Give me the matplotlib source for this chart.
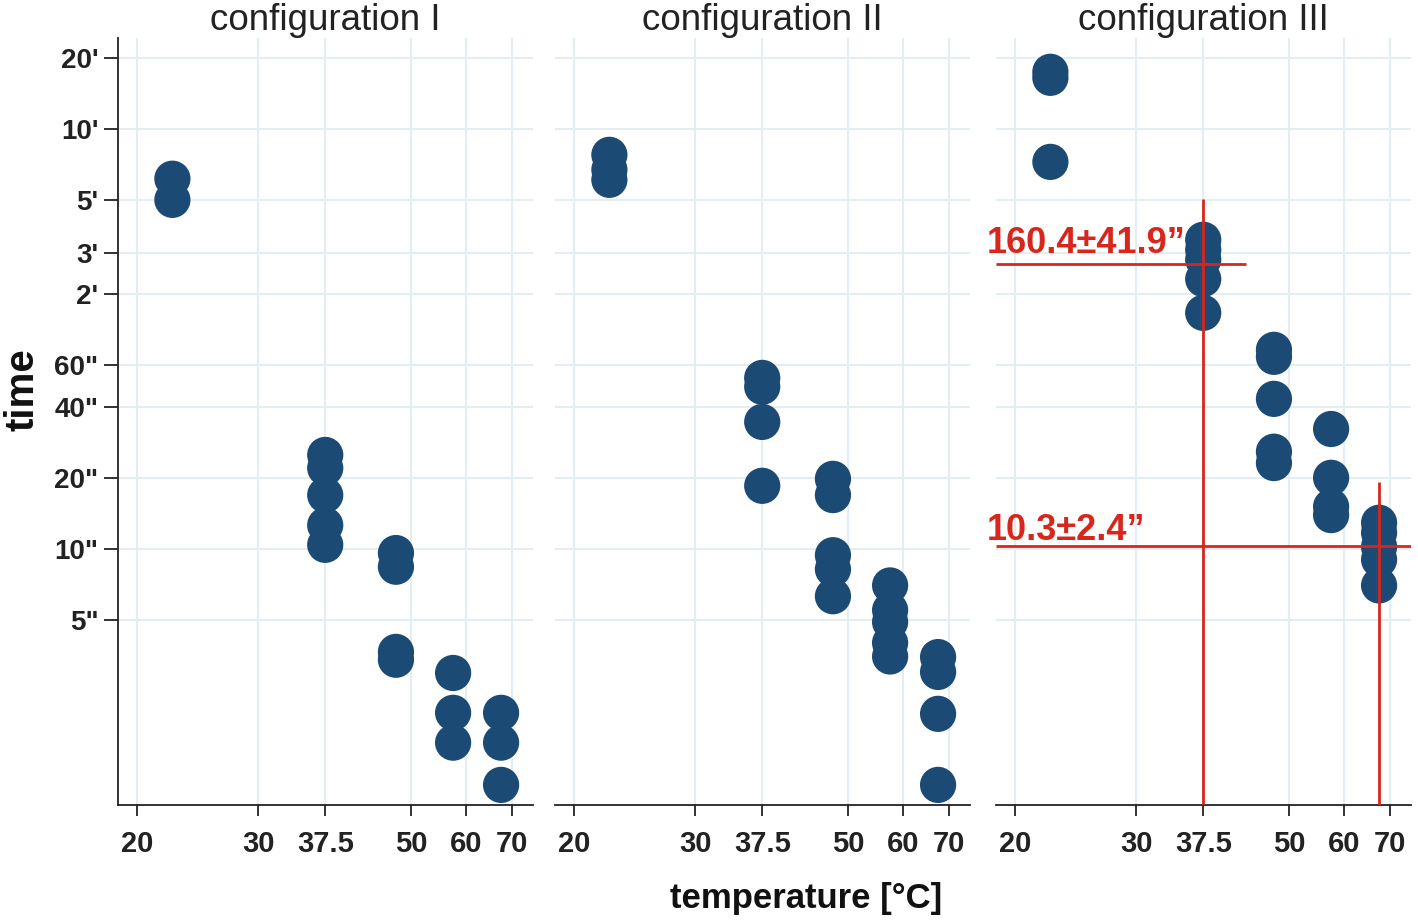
import numpy as np
import matplotlib.pyplot as plt
from matplotlib.ticker import FixedLocator, NullLocator

plt.rcParams['font.family'] = ['Liberation Sans', 'DejaVu Sans']

# temperature groups (°C) and measured times (seconds) per configuration
temps_1 = [22.5, 22.5,
           37.5, 37.5, 37.5, 37.5, 37.5,
           47.5, 47.5, 47.5, 47.5,
           57.5, 57.5, 57.5,
           67.5, 67.5, 67.5]
times_1 = [370, 301,
           25.0, 22.0, 16.9, 12.6, 10.4,
           9.6, 8.4, 3.66, 3.39,
           2.98, 2.02, 1.51,
           2.02, 1.51, 1.0]

temps_2 = [22.5, 22.5, 22.5,
           37.5, 37.5, 37.5, 37.5,
           47.5, 47.5, 47.5, 47.5, 47.5,
           57.5, 57.5, 57.5, 57.5, 57.5,
           67.5, 67.5, 67.5, 67.5]
times_2 = [467, 404, 366,
           53, 48.6, 34.5, 18.5,
           19.8, 16.9, 9.4, 8.2, 6.3,
           7.0, 5.5, 4.9, 4.0, 3.5,
           3.48, 3.01, 2.0, 1.0]

temps_3 = [22.5, 22.5, 22.5,
           37.5, 37.5, 37.5, 37.5, 37.5,
           47.5, 47.5, 47.5, 47.5, 47.5,
           57.5, 57.5, 57.5, 57.5,
           67.5, 67.5, 67.5, 67.5, 67.5]
times_3 = [1050, 990, 436,
           204, 185, 168, 139, 100,
           69.7, 65.1, 43.2, 25.8, 23.1,
           32.2, 20.0, 15.1, 13.9,
           12.9, 11.7, 10.2, 9.0, 7.0]

titles = ['configuration I', 'configuration II', 'configuration III']

x_ticks = [20, 30, 37.5, 50, 60, 70]
x_labels = ['20', '30', '37.5', '50', '60', '70']
y_ticks = [5, 10, 20, 40, 60, 120, 180, 300, 600, 1200]
y_labels = ['5"', '10"', '20"', '40"', '60"', "2'", "3'", "5'", "10'", "20'"]

# highlighted means in configuration III
mean_temps = [37.5, 67.5]
mean_times = [160.4, 10.3]
mean_labels = ['160.4\u00b141.9\u201d', '10.3\u00b12.4\u201d']
hline_ends = [43.2, 75.1]
vline_tops = [304, 19.2]

XLIM = (18.76, 75.1)
YLIM = (0.822, 1460)

NAVY = '#1b4a74'
RED = '#d8261d'
GRID = '#e4edf1'
AX = '#222222'

fig = plt.figure(figsize=(14.18, 9.22), dpi=100)
fig.patch.set_facecolor('white')

lefts = [118 / 1418, 555 / 1418, 996 / 1418]
width = 415 / 1418
bottom = 1 - 805 / 922
height = (805 - 38) / 922

data = [(temps_1, times_1), (temps_2, times_2), (temps_3, times_3)]
axes = []

for i, (left, (tx, ty)) in enumerate(zip(lefts, data)):
    ax = fig.add_axes([left, bottom, width, height])
    axes.append(ax)

    ax.set_xscale('log')
    ax.set_yscale('log')
    ax.set_xlim(*XLIM)
    ax.set_ylim(*YLIM)

    ax.xaxis.set_major_locator(FixedLocator(x_ticks))
    ax.xaxis.set_minor_locator(NullLocator())
    ax.yaxis.set_major_locator(FixedLocator(y_ticks))
    ax.yaxis.set_minor_locator(NullLocator())
    ax.set_xticklabels(x_labels, fontsize=21, fontweight='bold', color=AX)

    ax.grid(True, color=GRID, linewidth=1.5, zorder=0)
    ax.set_axisbelow(True)

    for side in ['top', 'right']:
        ax.spines[side].set_visible(False)
    ax.spines['bottom'].set_color(AX)
    ax.spines['bottom'].set_linewidth(1.3)

    ax.tick_params(axis='x', direction='out', length=8, width=1.3, color=AX, pad=10)

    if i == 0:
        ax.set_yticklabels(y_labels, fontsize=20, fontweight='bold', color=AX)
        ax.spines['left'].set_color(AX)
        ax.spines['left'].set_linewidth(1.3)
        ax.tick_params(axis='y', direction='out', length=10, width=1.3, color=AX, pad=4)
    else:
        ax.spines['left'].set_visible(False)
        ax.tick_params(axis='y', length=0, labelleft=False)

    ax.scatter(tx, ty, s=680, color=NAVY, edgecolors='none', zorder=3, clip_on=False)

    ax.set_title(titles[i], fontsize=26.5, color='#222222', pad=5)

# red mean markers in configuration III
ax3 = axes[2]
for t, m, x_end, y_top in zip(mean_temps, mean_times, hline_ends, vline_tops):
    ax3.hlines(m, XLIM[0], x_end, color=RED, linewidth=2, zorder=4)
    ax3.vlines(t, YLIM[0], y_top, color=RED, linewidth=2, zorder=4)

ax3.text(18.2, 179.5, mean_labels[0], color=RED, fontsize=26, fontweight='bold',
         ha='left', va='baseline', zorder=5, clip_on=False)
ax3.text(18.2, 10.9, mean_labels[1], color=RED, fontsize=26, fontweight='bold',
         ha='left', va='baseline', zorder=5, clip_on=False)

fig.text(22 / 1418, 1 - 390 / 922, 'time', rotation=90, fontsize=29, fontweight='bold',
         color='#111111', ha='center', va='center')
fig.text(806 / 1418, 1 - 908 / 922, 'temperature [\u00b0C]', fontsize=25, fontweight='bold',
         color='#111111', ha='center', va='baseline')

plt.savefig('out.png', dpi=100, facecolor='white')
